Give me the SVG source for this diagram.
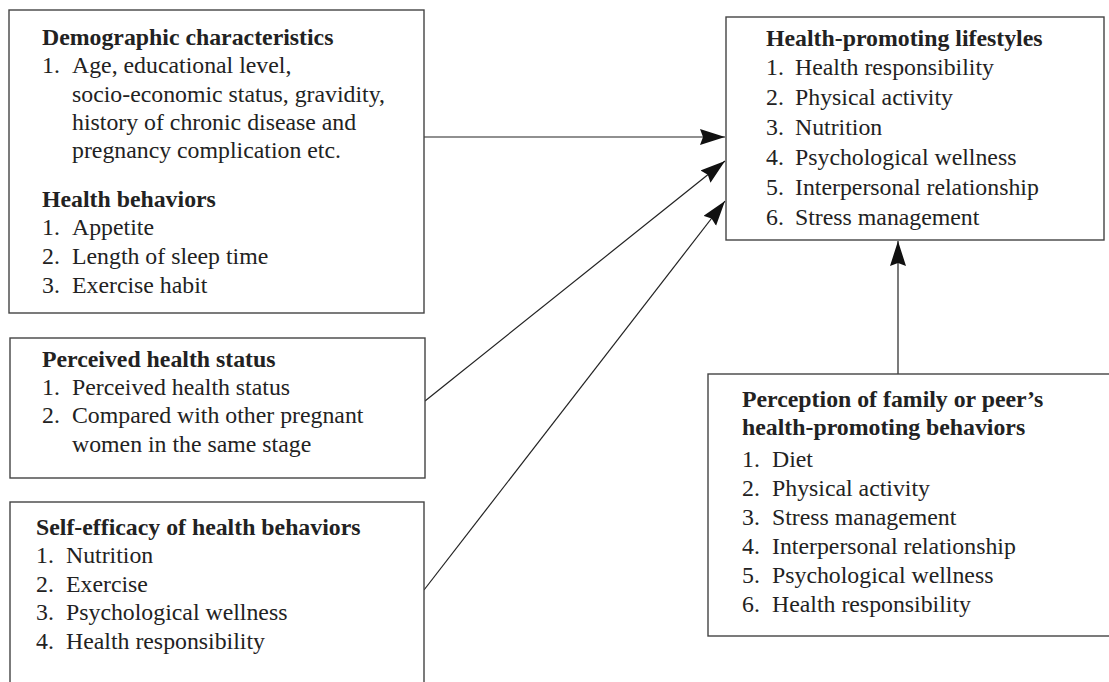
<svg xmlns="http://www.w3.org/2000/svg" width="1109" height="682" viewBox="0 0 1109 682">
<style>
.box{fill:#fff;stroke:#444;stroke-width:1.4}
.t{font-family:"Liberation Serif","Times New Roman",serif;font-size:23.8px;fill:#222}
.b{font-weight:bold}
.c{stroke:#222;stroke-width:1.2;fill:none}
</style>
<defs>
<marker id="ah" markerUnits="userSpaceOnUse" markerWidth="28" markerHeight="18" refX="25" refY="8" orient="auto" viewBox="0 0 28 18">
<path d="M0,0 L25,8 L0,16 L3,8 Z" fill="#111"/>
</marker>
</defs>
<rect width="1109" height="682" fill="#fff"/>
<g id="connectors">
<line class="c" x1="424" y1="137" x2="725" y2="137" marker-end="url(#ah)"/>
<line class="c" x1="425" y1="401" x2="725" y2="161" marker-end="url(#ah)"/>
<line class="c" x1="424" y1="590" x2="725" y2="201" marker-end="url(#ah)"/>
<line class="c" x1="898" y1="374" x2="898" y2="241" marker-end="url(#ah)"/>
</g>
<g id="demographic">
<rect class="box" x="9" y="10" width="415" height="303"/>
<text class="t b" x="42" y="45">Demographic characteristics</text>
<text class="t" x="42" y="73">1.</text>
<text class="t" x="72" y="73">Age, educational level,</text>
<text class="t" x="72" y="102">socio-economic status, gravidity,</text>
<text class="t" x="72" y="130">history of chronic disease and</text>
<text class="t" x="72" y="158">pregnancy complication etc.</text>
<text class="t b" x="42" y="207">Health behaviors</text>
<text class="t" x="42" y="235">1.</text><text class="t" x="72" y="235">Appetite</text>
<text class="t" x="42" y="264">2.</text><text class="t" x="72" y="264">Length of sleep time</text>
<text class="t" x="42" y="293">3.</text><text class="t" x="72" y="293">Exercise habit</text>
</g>
<g id="lifestyles">
<rect class="box" x="726" y="17" width="378" height="223"/>
<text class="t b" x="766" y="46">Health-promoting lifestyles</text>
<text class="t" x="766" y="75">1.</text><text class="t" x="795" y="75">Health responsibility</text>
<text class="t" x="766" y="105">2.</text><text class="t" x="795" y="105">Physical activity</text>
<text class="t" x="766" y="135">3.</text><text class="t" x="795" y="135">Nutrition</text>
<text class="t" x="766" y="165">4.</text><text class="t" x="795" y="165">Psychological wellness</text>
<text class="t" x="766" y="195">5.</text><text class="t" x="795" y="195">Interpersonal relationship</text>
<text class="t" x="766" y="225">6.</text><text class="t" x="795" y="225">Stress management</text>
</g>
<g id="perceived">
<rect class="box" x="10" y="338" width="415" height="140"/>
<text class="t b" x="42" y="367">Perceived health status</text>
<text class="t" x="42" y="395">1.</text><text class="t" x="72" y="395">Perceived health status</text>
<text class="t" x="42" y="423">2.</text><text class="t" x="72" y="423">Compared with other pregnant</text>
<text class="t" x="72" y="452">women in the same stage</text>
</g>
<g id="selfefficacy">
<rect class="box" x="10" y="502" width="414" height="200"/>
<text class="t b" x="36" y="535">Self-efficacy of health behaviors</text>
<text class="t" x="36" y="563">1.</text><text class="t" x="66" y="563">Nutrition</text>
<text class="t" x="36" y="592">2.</text><text class="t" x="66" y="592">Exercise</text>
<text class="t" x="36" y="620">3.</text><text class="t" x="66" y="620">Psychological wellness</text>
<text class="t" x="36" y="649">4.</text><text class="t" x="66" y="649">Health responsibility</text>
</g>
<g id="perception">
<rect class="box" x="708" y="374" width="420" height="262"/>
<text class="t b" x="742" y="407">Perception of family or peer’s</text>
<text class="t b" x="742" y="435">health-promoting behaviors</text>
<text class="t" x="742" y="467">1.</text><text class="t" x="772" y="467">Diet</text>
<text class="t" x="742" y="496">2.</text><text class="t" x="772" y="496">Physical activity</text>
<text class="t" x="742" y="525">3.</text><text class="t" x="772" y="525">Stress management</text>
<text class="t" x="742" y="554">4.</text><text class="t" x="772" y="554">Interpersonal relationship</text>
<text class="t" x="742" y="583">5.</text><text class="t" x="772" y="583">Psychological wellness</text>
<text class="t" x="742" y="612">6.</text><text class="t" x="772" y="612">Health responsibility</text>
</g>
</svg>
